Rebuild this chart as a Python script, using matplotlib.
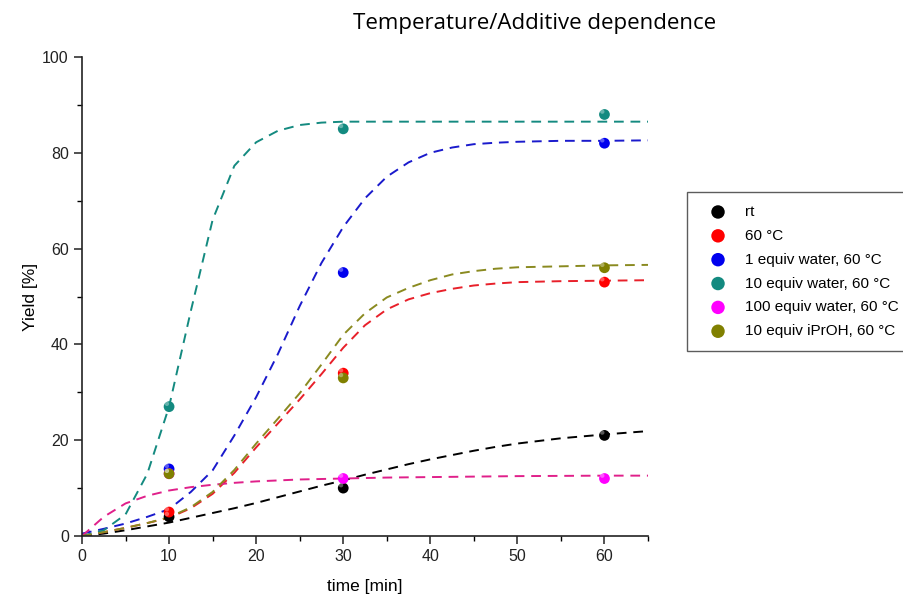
import numpy as np
import matplotlib
matplotlib.use("Agg")
import matplotlib.pyplot as plt
from matplotlib.ticker import MultipleLocator

plt.rcParams['font.family'] = ['Liberation Sans', 'DejaVu Sans']

# measured data points
t_pts = [10, 30, 60]
series_names = ["rt", "60 \u00b0C", "1 equiv water, 60 \u00b0C", "10 equiv water, 60 \u00b0C",
                "100 equiv water, 60 \u00b0C", "10 equiv iPrOH, 60 \u00b0C"]
colors = ["#000000", "#ff0000", "#0000ee", "#138a80", "#ff00ff", "#808000"]
line_colors = ["#000000", "#e8202a", "#1a1acc", "#148a80", "#e0208a", "#8a8a20"]

y_rt = [4, 10, 21]
y_60C = [5, 34, 53]
y_1water = [14, 55, 82]
y_10water = [27, 85, 88]
y_100water = [13, 12, 12]
y_iprOH = [13, 33, 56]

# fitted curves
fit_t = [0, 2.5, 5, 7.5, 10, 12.5, 15, 17.5, 20, 22.5, 25, 27.5, 30, 32.5, 35, 37.5, 40,
         42.5, 45, 47.5, 50, 55, 60, 65]
fit_rt = [0, 0.5, 1.2, 2, 2.8, 3.8, 4.8, 5.8, 6.9, 8.1, 9.3, 10.5, 11.6, 12.8, 13.9, 15, 16,
          16.9, 17.8, 18.6, 19.3, 20.4, 21.2, 21.9]
fit_60C = [0, 0.8, 1.7, 2.7, 3.8, 5.8, 8.8, 13.2, 18.5, 23.5, 28.5, 33.8, 39.3, 44, 47.3, 49.4, 50.7,
           51.6, 52.3, 52.7, 53.0, 53.2, 53.3, 53.4]
fit_1water = [0.5, 1.5, 2.6, 4, 5.6, 9.2, 13.7, 21, 29, 38, 48, 57, 64.5, 70.5, 75, 78, 80,
              81.1, 81.8, 82.1, 82.3, 82.5, 82.5, 82.6]
fit_10water = [0, 1.2, 4.5, 13, 27, 47, 66, 77.3, 82.2, 84.6, 85.8, 86.3, 86.5, 86.5, 86.5, 86.5, 86.5,
               86.5, 86.5, 86.5, 86.5, 86.5, 86.5, 86.5]
fit_100water = [0, 4, 6.8, 8.4, 9.5, 10.2, 10.7, 11.1, 11.4, 11.6, 11.8, 11.9, 12.0, 12.1, 12.2, 12.25, 12.3,
                12.35, 12.4, 12.45, 12.5, 12.55, 12.6, 12.6]
fit_iprOH = [0, 0.8, 1.7, 2.7, 3.9, 6.0, 9.2, 13.8, 19.3, 24.5, 29.8, 35.8, 42, 46.5, 49.8, 51.8, 53.4,
             54.6, 55.3, 55.8, 56.1, 56.3, 56.5, 56.6]

points = [y_rt, y_60C, y_1water, y_10water, y_100water, y_iprOH]
fits = [fit_rt, fit_60C, fit_1water, fit_10water, fit_100water, fit_iprOH]

fig = plt.figure(figsize=(9.04, 5.96), dpi=100)
ax = fig.add_axes([82/904, 1-536/596, (648-82)/904, (536-57)/596])

for fy, lc in zip(fits, line_colors):
    ax.plot(fit_t, fy, ls=(0, (5, 3.5)), color=lc, lw=1.4, zorder=2)

handles = []
for i in range(len(points)):
    h = ax.scatter(t_pts, points[i], s=60, color=colors[i], edgecolors='none', zorder=3,
                   label=series_names[i])
    ax.scatter(np.array(t_pts) - 0.25, np.array(points[i]) + 0.6, s=10, color='white',
               alpha=0.35, edgecolors='none', zorder=4)
    handles.append(h)

ax.set_xlim(0, 65)
ax.set_ylim(0, 100)
ax.xaxis.set_minor_locator(MultipleLocator(5))
ax.yaxis.set_major_locator(MultipleLocator(20))
ax.yaxis.set_minor_locator(MultipleLocator(10))
ax.set_xticks([0, 10, 20, 30, 40, 50, 60])
for s in ['top', 'right']:
    ax.spines[s].set_visible(False)
for s in ['left', 'bottom']:
    ax.spines[s].set_linewidth(1.2)
    ax.spines[s].set_color('#222222')
ax.tick_params(which='major', direction='out', length=6, width=1.1, labelsize=11.5, colors='#222222')
ax.tick_params(which='minor', direction='out', length=3.5, width=1.0)
ax.set_xlabel("time [min]", fontsize=12.5, labelpad=11)
ax.set_ylabel("Yield [%]", fontsize=12.5, labelpad=3)

fig.text(535/904, 1-24/596, "Temperature/Additive dependence", ha='center', va='center',
         fontsize=16, family=['Open Sans', 'DejaVu Sans'])

leg = fig.legend(handles=handles, loc='upper left', bbox_to_anchor=(687/904, 1-192/596),
                 frameon=True, fancybox=False, edgecolor='#333333', fontsize=11,
                 handletextpad=0.59, labelspacing=0.645, borderpad=0.85, handlelength=2.36,
                 borderaxespad=0, markerscale=1.25)
leg.get_frame().set_linewidth(1.0)

fig.savefig("out.png", dpi=100)
